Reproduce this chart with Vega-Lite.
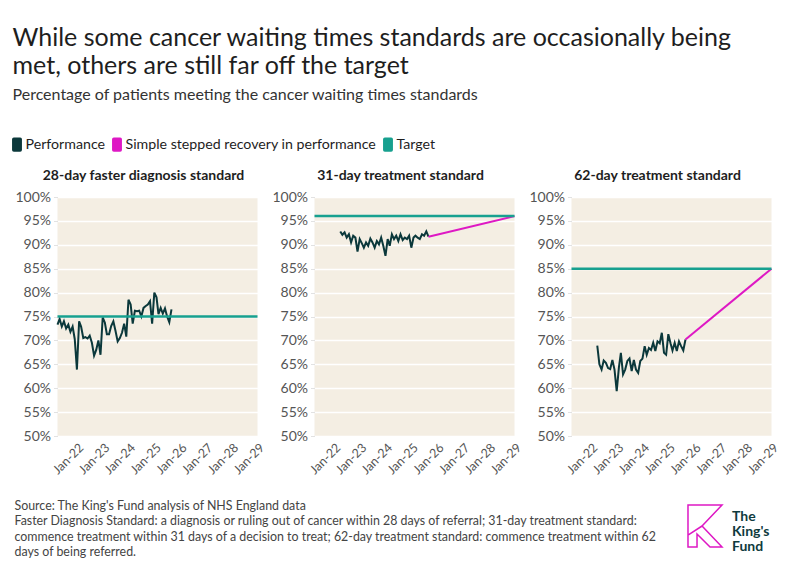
{
  "$schema": "https://vega.github.io/schema/vega-lite/v6.json",
  "background": "white",
  "padding": {"left": 9.5, "top": 26, "right": 10, "bottom": 5},
  "config": {
    "font": "Lato",
    "view": {"stroke": null},
    "axis": {"labelFont": "Lato", "titleFont": "Lato"},
    "legend": {"labelFont": "Lato"},
    "title": {"font": "Lato", "subtitleFont": "Lato"}
  },
  "title": {
    "text": ["While some cancer waiting times standards are occasionally being", "met, others are still far off the target"],
    "subtitle": "Percentage of patients meeting the cancer waiting times standards",
    "anchor": "start",
    "frame": "bounds",
    "dx": 3,
    "fontSize": 25,
    "fontWeight": "normal",
    "lineHeight": 28,
    "color": "#1e1e1e",
    "subtitleFontSize": 16,
    "subtitleColor": "#333333",
    "subtitlePadding": 8,
    "offset": 34
  },
  "datasets": {
    "d": [
      {"p": "28", "s": "Performance", "d": "2021-04-01", "v": 73.3},
      {"p": "28", "s": "Performance", "d": "2021-05-01", "v": 74.5},
      {"p": "28", "s": "Performance", "d": "2021-06-01", "v": 72.9},
      {"p": "28", "s": "Performance", "d": "2021-07-01", "v": 74.0},
      {"p": "28", "s": "Performance", "d": "2021-08-01", "v": 72.5},
      {"p": "28", "s": "Performance", "d": "2021-09-01", "v": 73.3},
      {"p": "28", "s": "Performance", "d": "2021-10-01", "v": 71.8},
      {"p": "28", "s": "Performance", "d": "2021-11-01", "v": 72.9},
      {"p": "28", "s": "Performance", "d": "2021-12-01", "v": 70.3},
      {"p": "28", "s": "Performance", "d": "2022-01-01", "v": 63.9},
      {"p": "28", "s": "Performance", "d": "2022-02-01", "v": 74.0},
      {"p": "28", "s": "Performance", "d": "2022-03-01", "v": 72.9},
      {"p": "28", "s": "Performance", "d": "2022-04-01", "v": 70.5},
      {"p": "28", "s": "Performance", "d": "2022-05-01", "v": 70.7},
      {"p": "28", "s": "Performance", "d": "2022-06-01", "v": 70.4},
      {"p": "28", "s": "Performance", "d": "2022-07-01", "v": 71.0},
      {"p": "28", "s": "Performance", "d": "2022-08-01", "v": 69.5},
      {"p": "28", "s": "Performance", "d": "2022-09-01", "v": 66.8},
      {"p": "28", "s": "Performance", "d": "2022-10-01", "v": 68.0},
      {"p": "28", "s": "Performance", "d": "2022-11-01", "v": 70.0},
      {"p": "28", "s": "Performance", "d": "2022-12-01", "v": 67.0},
      {"p": "28", "s": "Performance", "d": "2023-01-01", "v": 74.8},
      {"p": "28", "s": "Performance", "d": "2023-02-01", "v": 73.7},
      {"p": "28", "s": "Performance", "d": "2023-03-01", "v": 71.3},
      {"p": "28", "s": "Performance", "d": "2023-04-01", "v": 71.3},
      {"p": "28", "s": "Performance", "d": "2023-05-01", "v": 73.0},
      {"p": "28", "s": "Performance", "d": "2023-06-01", "v": 74.0},
      {"p": "28", "s": "Performance", "d": "2023-07-01", "v": 72.0},
      {"p": "28", "s": "Performance", "d": "2023-08-01", "v": 69.8},
      {"p": "28", "s": "Performance", "d": "2023-09-01", "v": 70.5},
      {"p": "28", "s": "Performance", "d": "2023-10-01", "v": 71.6},
      {"p": "28", "s": "Performance", "d": "2023-11-01", "v": 73.5},
      {"p": "28", "s": "Performance", "d": "2023-12-01", "v": 70.8},
      {"p": "28", "s": "Performance", "d": "2024-01-01", "v": 78.5},
      {"p": "28", "s": "Performance", "d": "2024-02-01", "v": 77.5},
      {"p": "28", "s": "Performance", "d": "2024-03-01", "v": 73.5},
      {"p": "28", "s": "Performance", "d": "2024-04-01", "v": 76.2},
      {"p": "28", "s": "Performance", "d": "2024-05-01", "v": 76.1},
      {"p": "28", "s": "Performance", "d": "2024-06-01", "v": 76.2},
      {"p": "28", "s": "Performance", "d": "2024-07-01", "v": 75.0},
      {"p": "28", "s": "Performance", "d": "2024-08-01", "v": 76.8},
      {"p": "28", "s": "Performance", "d": "2024-09-01", "v": 77.2},
      {"p": "28", "s": "Performance", "d": "2024-10-01", "v": 77.5},
      {"p": "28", "s": "Performance", "d": "2024-11-01", "v": 78.2},
      {"p": "28", "s": "Performance", "d": "2024-12-01", "v": 73.5},
      {"p": "28", "s": "Performance", "d": "2025-01-01", "v": 80.0},
      {"p": "28", "s": "Performance", "d": "2025-02-01", "v": 79.0},
      {"p": "28", "s": "Performance", "d": "2025-03-01", "v": 75.5},
      {"p": "28", "s": "Performance", "d": "2025-04-01", "v": 76.8},
      {"p": "28", "s": "Performance", "d": "2025-05-01", "v": 75.6},
      {"p": "28", "s": "Performance", "d": "2025-06-01", "v": 76.7},
      {"p": "28", "s": "Performance", "d": "2025-07-01", "v": 75.0},
      {"p": "28", "s": "Performance", "d": "2025-08-01", "v": 73.8},
      {"p": "28", "s": "Performance", "d": "2025-09-01", "v": 76.5},
      {"p": "28", "s": "Target", "d": "2021-04-01", "v": 75},

      {"p": "31", "s": "Performance", "d": "2022-04-01", "v": 92.8},
      {"p": "31", "s": "Performance", "d": "2022-05-01", "v": 92.1},
      {"p": "31", "s": "Performance", "d": "2022-06-01", "v": 92.6},
      {"p": "31", "s": "Performance", "d": "2022-07-01", "v": 91.5},
      {"p": "31", "s": "Performance", "d": "2022-08-01", "v": 92.2},
      {"p": "31", "s": "Performance", "d": "2022-09-01", "v": 90.5},
      {"p": "31", "s": "Performance", "d": "2022-10-01", "v": 91.9},
      {"p": "31", "s": "Performance", "d": "2022-11-01", "v": 91.5},
      {"p": "31", "s": "Performance", "d": "2022-12-01", "v": 88.6},
      {"p": "31", "s": "Performance", "d": "2023-01-01", "v": 91.2},
      {"p": "31", "s": "Performance", "d": "2023-02-01", "v": 90.3},
      {"p": "31", "s": "Performance", "d": "2023-03-01", "v": 89.4},
      {"p": "31", "s": "Performance", "d": "2023-04-01", "v": 90.5},
      {"p": "31", "s": "Performance", "d": "2023-05-01", "v": 89.8},
      {"p": "31", "s": "Performance", "d": "2023-06-01", "v": 91.3},
      {"p": "31", "s": "Performance", "d": "2023-07-01", "v": 90.5},
      {"p": "31", "s": "Performance", "d": "2023-08-01", "v": 89.4},
      {"p": "31", "s": "Performance", "d": "2023-09-01", "v": 90.8},
      {"p": "31", "s": "Performance", "d": "2023-10-01", "v": 90.1},
      {"p": "31", "s": "Performance", "d": "2023-11-01", "v": 91.5},
      {"p": "31", "s": "Performance", "d": "2023-12-01", "v": 89.8},
      {"p": "31", "s": "Performance", "d": "2024-01-01", "v": 87.7},
      {"p": "31", "s": "Performance", "d": "2024-02-01", "v": 91.2},
      {"p": "31", "s": "Performance", "d": "2024-03-01", "v": 89.8},
      {"p": "31", "s": "Performance", "d": "2024-04-01", "v": 92.2},
      {"p": "31", "s": "Performance", "d": "2024-05-01", "v": 91.2},
      {"p": "31", "s": "Performance", "d": "2024-06-01", "v": 91.9},
      {"p": "31", "s": "Performance", "d": "2024-07-01", "v": 90.8},
      {"p": "31", "s": "Performance", "d": "2024-08-01", "v": 92.2},
      {"p": "31", "s": "Performance", "d": "2024-09-01", "v": 91.0},
      {"p": "31", "s": "Performance", "d": "2024-10-01", "v": 91.5},
      {"p": "31", "s": "Performance", "d": "2024-11-01", "v": 91.2},
      {"p": "31", "s": "Performance", "d": "2024-12-01", "v": 91.9},
      {"p": "31", "s": "Performance", "d": "2025-01-01", "v": 89.4},
      {"p": "31", "s": "Performance", "d": "2025-02-01", "v": 91.5},
      {"p": "31", "s": "Performance", "d": "2025-03-01", "v": 91.9},
      {"p": "31", "s": "Performance", "d": "2025-04-01", "v": 91.5},
      {"p": "31", "s": "Performance", "d": "2025-05-01", "v": 91.2},
      {"p": "31", "s": "Performance", "d": "2025-06-01", "v": 92.2},
      {"p": "31", "s": "Performance", "d": "2025-07-01", "v": 91.9},
      {"p": "31", "s": "Performance", "d": "2025-08-01", "v": 92.8},
      {"p": "31", "s": "Performance", "d": "2025-09-01", "v": 91.7},
      {"p": "31", "s": "Simple stepped recovery in performance", "d": "2025-09-01", "v": 91.7},
      {"p": "31", "s": "Simple stepped recovery in performance", "d": "2029-01-01", "v": 96},
      {"p": "31", "s": "Target", "d": "2021-04-01", "v": 96},

      {"p": "62", "s": "Performance", "d": "2022-04-01", "v": 68.9},
      {"p": "62", "s": "Performance", "d": "2022-05-01", "v": 65.0},
      {"p": "62", "s": "Performance", "d": "2022-06-01", "v": 63.9},
      {"p": "62", "s": "Performance", "d": "2022-07-01", "v": 65.8},
      {"p": "62", "s": "Performance", "d": "2022-08-01", "v": 65.3},
      {"p": "62", "s": "Performance", "d": "2022-09-01", "v": 64.2},
      {"p": "62", "s": "Performance", "d": "2022-10-01", "v": 64.0},
      {"p": "62", "s": "Performance", "d": "2022-11-01", "v": 65.9},
      {"p": "62", "s": "Performance", "d": "2022-12-01", "v": 63.9},
      {"p": "62", "s": "Performance", "d": "2023-01-01", "v": 59.4},
      {"p": "62", "s": "Performance", "d": "2023-02-01", "v": 64.3},
      {"p": "62", "s": "Performance", "d": "2023-03-01", "v": 67.4},
      {"p": "62", "s": "Performance", "d": "2023-04-01", "v": 62.9},
      {"p": "62", "s": "Performance", "d": "2023-05-01", "v": 63.9},
      {"p": "62", "s": "Performance", "d": "2023-06-01", "v": 65.7},
      {"p": "62", "s": "Performance", "d": "2023-07-01", "v": 66.2},
      {"p": "62", "s": "Performance", "d": "2023-08-01", "v": 63.6},
      {"p": "62", "s": "Performance", "d": "2023-09-01", "v": 65.9},
      {"p": "62", "s": "Performance", "d": "2023-10-01", "v": 63.9},
      {"p": "62", "s": "Performance", "d": "2023-11-01", "v": 63.2},
      {"p": "62", "s": "Performance", "d": "2023-12-01", "v": 65.7},
      {"p": "62", "s": "Performance", "d": "2024-01-01", "v": 66.2},
      {"p": "62", "s": "Performance", "d": "2024-02-01", "v": 68.8},
      {"p": "62", "s": "Performance", "d": "2024-03-01", "v": 67.0},
      {"p": "62", "s": "Performance", "d": "2024-04-01", "v": 68.4},
      {"p": "62", "s": "Performance", "d": "2024-05-01", "v": 68.0},
      {"p": "62", "s": "Performance", "d": "2024-06-01", "v": 69.5},
      {"p": "62", "s": "Performance", "d": "2024-07-01", "v": 67.8},
      {"p": "62", "s": "Performance", "d": "2024-08-01", "v": 69.8},
      {"p": "62", "s": "Performance", "d": "2024-09-01", "v": 69.4},
      {"p": "62", "s": "Performance", "d": "2024-10-01", "v": 71.6},
      {"p": "62", "s": "Performance", "d": "2024-11-01", "v": 67.4},
      {"p": "62", "s": "Performance", "d": "2024-12-01", "v": 67.0},
      {"p": "62", "s": "Performance", "d": "2025-01-01", "v": 71.3},
      {"p": "62", "s": "Performance", "d": "2025-02-01", "v": 69.4},
      {"p": "62", "s": "Performance", "d": "2025-03-01", "v": 67.9},
      {"p": "62", "s": "Performance", "d": "2025-04-01", "v": 69.5},
      {"p": "62", "s": "Performance", "d": "2025-05-01", "v": 67.8},
      {"p": "62", "s": "Performance", "d": "2025-06-01", "v": 69.8},
      {"p": "62", "s": "Performance", "d": "2025-07-01", "v": 68.8},
      {"p": "62", "s": "Performance", "d": "2025-08-01", "v": 67.9},
      {"p": "62", "s": "Performance", "d": "2025-09-01", "v": 70.2},
      {"p": "62", "s": "Simple stepped recovery in performance", "d": "2025-09-01", "v": 70.2},
      {"p": "62", "s": "Simple stepped recovery in performance", "d": "2029-01-01", "v": 85},
      {"p": "62", "s": "Target", "d": "2021-04-01", "v": 85}
    ]
  },
  "vconcat": [
    {
      "hconcat": [
        {
          "width": 200, "height": 239,
          "view": {"fill": "#f4eee3", "stroke": null},
          "data": {"name": "d"},
          "transform": [{"filter": "datum.p == '28'"}],
          "title": {"text": "28-day faster diagnosis standard", "fontSize": 14, "fontWeight": "bold", "color": "#1e1e1e", "anchor": "middle", "frame": "group", "dx": -14, "offset": 7},
          "encoding": {
            "y": {"field": "v", "type": "quantitative", "scale": {"domain": [50, 100], "nice": false, "zero": false},
              "axis": {"values": [50, 55, 60, 65, 70, 75, 80, 85, 90, 95, 100], "labelExpr": "datum.value + '%'", "labelOverlap": false, "title": null, "domain": false, "tickSize": 4, "tickColor": "#e2e2e2", "labelPadding": 3, "labelFontSize": 14, "labelColor": "#555555", "gridColor": "#ffffff", "gridWidth": 1.5}},
            "color": {"field": "s", "type": "nominal", "scale": {"domain": ["Performance", "Simple stepped recovery in performance", "Target"], "range": ["#0b383b", "#de18c4", "#17a08f"]},
              "legend": {"orient": "none", "legendX": -48, "legendY": -60, "direction": "horizontal", "title": null, "labelFontSize": 14.2, "labelLimit": 0, "labelColor": "#1e1e1e", "symbolType": "M-0.7,-0.75Q-0.7,-1,-0.45,-1L0.45,-1Q0.7,-1,0.7,-0.75L0.7,0.75Q0.7,1,0.45,1L-0.45,1Q-0.7,1,-0.7,0.75Z", "symbolSize": 200, "symbolStrokeWidth": 0, "columnPadding": 4, "labelOffset": 1,
                "encode": {"symbols": {"update": {"fill": {"scale": "color", "field": "value"}, "opacity": {"value": 1}}}}}}
          },
          "layer": [
            {
              "transform": [{"filter": "datum.s != 'Target'"}],
              "mark": {"type": "line", "strokeWidth": 2},
              "encoding": {
                "x": {"field": "d", "type": "temporal", "scale": {"type": "utc", "domain": [{"year": 2021, "month": 4, "date": 1, "utc": true}, {"year": 2029, "month": 1, "date": 1, "utc": true}]},
                  "axis": {"values": [{"year": 2022, "month": 1, "date": 1, "utc": true}, {"year": 2023, "month": 1, "date": 1, "utc": true}, {"year": 2024, "month": 1, "date": 1, "utc": true}, {"year": 2025, "month": 1, "date": 1, "utc": true}, {"year": 2026, "month": 1, "date": 1, "utc": true}, {"year": 2027, "month": 1, "date": 1, "utc": true}, {"year": 2028, "month": 1, "date": 1, "utc": true}, {"year": 2029, "month": 1, "date": 1, "utc": true}],
                    "format": "%b-%y", "labelAngle": -45, "labelAlign": "right", "labelBaseline": "top", "labelOverlap": false, "grid": false, "ticks": false, "domain": false, "title": null, "labelFontSize": 12.5, "labelColor": "#555555", "labelPadding": 5}}
              }
            },
            {
              "transform": [{"filter": "datum.s == 'Target'"}],
              "mark": {"type": "rule", "strokeWidth": 2.5},
              "encoding": {}
            }
          ]
        },
        {
          "width": 200, "height": 239,
          "view": {"fill": "#f4eee3", "stroke": null},
          "data": {"name": "d"},
          "transform": [{"filter": "datum.p == '31'"}],
          "title": {"text": "31-day treatment standard", "fontSize": 14, "fontWeight": "bold", "color": "#1e1e1e", "anchor": "middle", "frame": "group", "dx": -14, "offset": 7},
          "encoding": {
            "y": {"field": "v", "type": "quantitative", "scale": {"domain": [50, 100], "nice": false, "zero": false},
              "axis": {"values": [50, 55, 60, 65, 70, 75, 80, 85, 90, 95, 100], "labelExpr": "datum.value + '%'", "labelOverlap": false, "title": null, "domain": false, "tickSize": 4, "tickColor": "#e2e2e2", "labelPadding": 3, "labelFontSize": 14, "labelColor": "#555555", "gridColor": "#ffffff", "gridWidth": 1.5}},
            "color": {"field": "s", "type": "nominal"}
          },
          "layer": [
            {
              "transform": [{"filter": "datum.s != 'Target'"}],
              "mark": {"type": "line", "strokeWidth": 2},
              "encoding": {
                "x": {"field": "d", "type": "temporal", "scale": {"type": "utc", "domain": [{"year": 2021, "month": 4, "date": 1, "utc": true}, {"year": 2029, "month": 1, "date": 1, "utc": true}]},
                  "axis": {"values": [{"year": 2022, "month": 1, "date": 1, "utc": true}, {"year": 2023, "month": 1, "date": 1, "utc": true}, {"year": 2024, "month": 1, "date": 1, "utc": true}, {"year": 2025, "month": 1, "date": 1, "utc": true}, {"year": 2026, "month": 1, "date": 1, "utc": true}, {"year": 2027, "month": 1, "date": 1, "utc": true}, {"year": 2028, "month": 1, "date": 1, "utc": true}, {"year": 2029, "month": 1, "date": 1, "utc": true}],
                    "format": "%b-%y", "labelAngle": -45, "labelAlign": "right", "labelBaseline": "top", "labelOverlap": false, "grid": false, "ticks": false, "domain": false, "title": null, "labelFontSize": 12.5, "labelColor": "#555555", "labelPadding": 5}}
              }
            },
            {
              "transform": [{"filter": "datum.s == 'Target'"}],
              "mark": {"type": "rule", "strokeWidth": 2.5},
              "encoding": {}
            }
          ]
        },
        {
          "width": 200, "height": 239,
          "view": {"fill": "#f4eee3", "stroke": null},
          "data": {"name": "d"},
          "transform": [{"filter": "datum.p == '62'"}],
          "title": {"text": "62-day treatment standard", "fontSize": 14, "fontWeight": "bold", "color": "#1e1e1e", "anchor": "middle", "frame": "group", "dx": -14, "offset": 7},
          "encoding": {
            "y": {"field": "v", "type": "quantitative", "scale": {"domain": [50, 100], "nice": false, "zero": false},
              "axis": {"values": [50, 55, 60, 65, 70, 75, 80, 85, 90, 95, 100], "labelExpr": "datum.value + '%'", "labelOverlap": false, "title": null, "domain": false, "tickSize": 4, "tickColor": "#e2e2e2", "labelPadding": 3, "labelFontSize": 14, "labelColor": "#555555", "gridColor": "#ffffff", "gridWidth": 1.5}},
            "color": {"field": "s", "type": "nominal"}
          },
          "layer": [
            {
              "transform": [{"filter": "datum.s != 'Target'"}],
              "mark": {"type": "line", "strokeWidth": 2},
              "encoding": {
                "x": {"field": "d", "type": "temporal", "scale": {"type": "utc", "domain": [{"year": 2021, "month": 4, "date": 1, "utc": true}, {"year": 2029, "month": 1, "date": 1, "utc": true}]},
                  "axis": {"values": [{"year": 2022, "month": 1, "date": 1, "utc": true}, {"year": 2023, "month": 1, "date": 1, "utc": true}, {"year": 2024, "month": 1, "date": 1, "utc": true}, {"year": 2025, "month": 1, "date": 1, "utc": true}, {"year": 2026, "month": 1, "date": 1, "utc": true}, {"year": 2027, "month": 1, "date": 1, "utc": true}, {"year": 2028, "month": 1, "date": 1, "utc": true}, {"year": 2029, "month": 1, "date": 1, "utc": true}],
                    "format": "%b-%y", "labelAngle": -45, "labelAlign": "right", "labelBaseline": "top", "labelOverlap": false, "grid": false, "ticks": false, "domain": false, "title": null, "labelFontSize": 12.5, "labelColor": "#555555", "labelPadding": 5}}
              }
            },
            {
              "transform": [{"filter": "datum.s == 'Target'"}],
              "mark": {"type": "rule", "strokeWidth": 2.5},
              "encoding": {}
            }
          ]
        }
      ],
      "spacing": 5
    },
    {
      "hconcat": [
        {
          "width": 621, "height": 1,
          "data": {"values": [{"t": ""}]},
          "mark": {"type": "text"},
          "encoding": {"text": {"field": "t"}},
          "title": {"text": ["Source: The King's Fund analysis of NHS England data", "Faster Diagnosis Standard: a diagnosis or ruling out of cancer within 28 days of referral; 31-day treatment standard:", "commence treatment within 31 days of a decision to treat; 62-day treatment standard: commence treatment within 62", "days of being referred."], "orient": "bottom", "baseline": "top", "anchor": "start", "frame": "group", "dx": -43, "fontSize": 12.4, "fontWeight": "normal", "color": "#444444", "lineHeight": 15.5, "offset": 0}
        },
        {
          "width": 27, "height": 64,
          "data": {"values": [{"t": "logo"}]},
          "mark": {"type": "point", "shape": "M-0.81,-1L0.81,-1L-0.14,0L0.81,1L0.24,1L-0.38,0.38L-0.38,1L-0.81,1ZM-0.81,0.43L-0.14,0", "size": 1764, "filled": false, "stroke": "#de18c4", "strokeWidth": 1.5, "opacity": 1}
        },
        {
          "width": 1, "height": 46,
          "data": {"values": [{"t": "logo"}]},
          "mark": {"type": "text", "text": ["The", "King's", "Fund"], "align": "left", "baseline": "middle", "fontSize": 14, "fontWeight": "bold", "color": "#0f3b3d", "lineHeight": 15}
        }
      ],
      "spacing": 6
    }
  ],
  "spacing": 11
}
